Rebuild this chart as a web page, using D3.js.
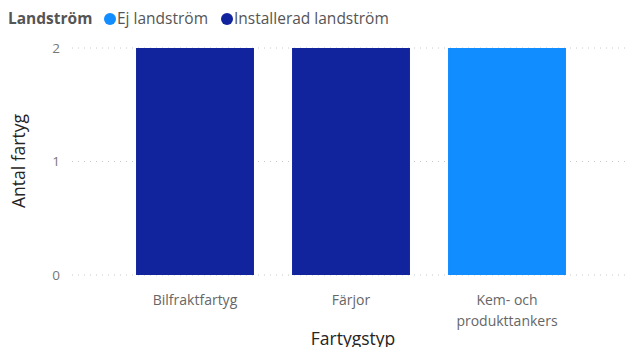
<!DOCTYPE html>
<html><head><meta charset="utf-8">
<script src="https://cdn.jsdelivr.net/npm/d3@7"></script>
<style>body{margin:0;background:#fff;}svg{display:block;font-family:"Segoe UI","Open Sans","Noto Sans",sans-serif;}</style>
</head><body><svg id="c" width="627" height="347"></svg>
<script>
const categories = ["Bilfraktfartyg", "Färjor", "Kem- och produkttankers"];
const categoryLines = [["Bilfraktfartyg"], ["Färjor"], ["Kem- och", "produkttankers"]];
const seriesNames = ["Ej landström", "Installerad landström"];
const seriesColors = ["#118DFF", "#12239E"];
const ejLandstrom = [0, 0, 2];
const installerad = [2, 2, 0];
const yTicks = [0, 1, 2];

const svg = d3.select("#c");
const x = d3.scaleBand().domain(categories).range([117, 585]).paddingInner(0.244).paddingOuter(0.122);
const y = d3.scaleLinear().domain([0, 2]).range([275, 48]);

// gridlines
svg.append("g").selectAll("line").data(yTicks).join("line")
  .attr("x1", 72).attr("x2", 627).attr("y1", d => y(d)).attr("y2", d => y(d))
  .attr("stroke", "#c8c8c8").attr("stroke-width", 1).attr("stroke-dasharray", "1,5");

// y tick labels
svg.append("g").selectAll("text").data(yTicks).join("text")
  .attr("x", 60).attr("y", d => y(d)).attr("dy", "0.35em").attr("text-anchor", "end")
  .attr("font-size", 13.5).attr("fill", "#777").text(d => d);

// bars (stacked)
const stacked = categories.map((c, i) => ({c, vals: [ejLandstrom[i], installerad[i]]}));
stacked.forEach(s => {
  let base = 0;
  s.vals.forEach((v, k) => {
    if (v > 0) {
      svg.append("rect").attr("x", x(s.c)).attr("width", x.bandwidth())
        .attr("y", y(base + v)).attr("height", y(base) - y(base + v)).attr("fill", seriesColors[k]);
    }
    base += v;
  });
});

// x labels
const xl = svg.append("g");
categories.forEach((c, i) => {
  const t = xl.append("text").attr("text-anchor", "middle").attr("font-size", 14).attr("fill", "#666")
    .attr("x", x(c) + x.bandwidth() / 2).attr("y", 305);
  categoryLines[i].forEach((l, j) => t.append("tspan").attr("x", x(c) + x.bandwidth() / 2).attr("dy", j ? 21 : 0).text(l));
});

// axis titles
svg.append("text").attr("x", 353).attr("y", 345).attr("text-anchor", "middle").attr("font-size", 17.5).attr("fill", "#252423").text("Fartygstyp");
svg.append("text").attr("transform", "translate(25,161) rotate(-90)").attr("text-anchor", "middle").attr("font-size", 17.5).attr("fill", "#252423").text("Antal fartyg");

// legend
const lg = svg.append("g");
lg.append("text").attr("x", 8).attr("y", 24).attr("font-size", 15.5).attr("font-weight", "bold").attr("fill", "#555").text("Landström");
const lx = [110, 227];
seriesNames.forEach((n, k) => {
  lg.append("circle").attr("cx", lx[k]).attr("cy", 19).attr("r", 6).attr("fill", seriesColors[k]);
  lg.append("text").attr("x", lx[k] + 7).attr("y", 24).attr("font-size", 15.5).attr("fill", "#555").text(n);
});
</script></body></html>
